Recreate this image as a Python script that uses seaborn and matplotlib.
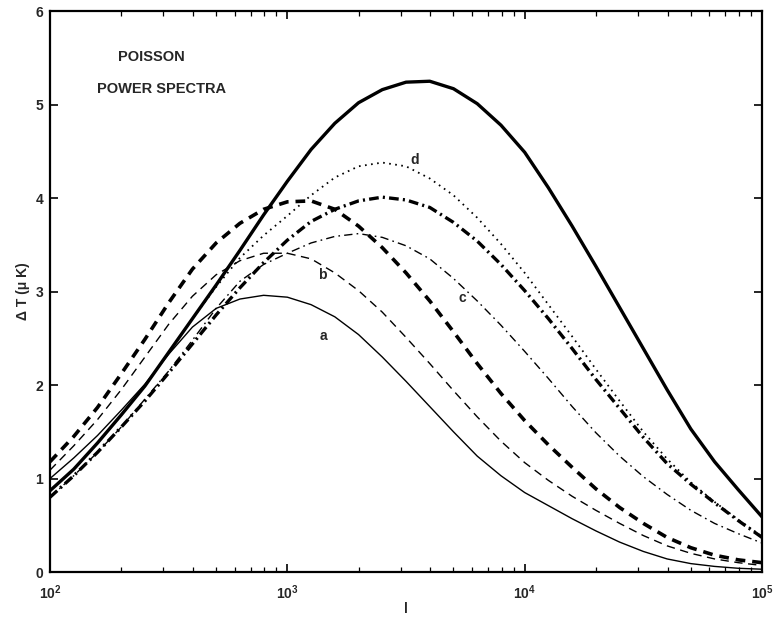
import numpy as np
import pandas as pd
import matplotlib
matplotlib.use("Agg")
import matplotlib.pyplot as plt
import seaborn as sns
from matplotlib.ticker import LogLocator, NullFormatter, FixedLocator

# ---------------- data ----------------
log_l = [2.0, 2.1, 2.2, 2.3, 2.4, 2.5, 2.6, 2.7, 2.8, 2.9,
         3.0, 3.1, 3.2, 3.3, 3.4, 3.5, 3.6, 3.7, 3.8, 3.9,
         4.0, 4.1, 4.2, 4.3, 4.4, 4.5, 4.6, 4.7, 4.8, 4.9, 5.0]

curve_a = [1.00, 1.22, 1.46, 1.73, 2.01, 2.33, 2.62, 2.82, 2.92, 2.96,
           2.94, 2.86, 2.73, 2.54, 2.30, 2.04, 1.77, 1.50, 1.24, 1.03,
           0.85, 0.71, 0.57, 0.44, 0.32, 0.22, 0.14, 0.09, 0.06, 0.04, 0.03]

curve_b = [1.09, 1.35, 1.63, 1.95, 2.30, 2.65, 2.95, 3.18, 3.33, 3.41,
           3.41, 3.35, 3.20, 3.01, 2.78, 2.51, 2.23, 1.94, 1.66, 1.40,
           1.17, 0.98, 0.81, 0.66, 0.52, 0.39, 0.28, 0.20, 0.14, 0.10, 0.07]

curve_thick_dash = [1.18, 1.45, 1.76, 2.12, 2.49, 2.88, 3.24, 3.52, 3.73, 3.88,
                    3.96, 3.97, 3.88, 3.70, 3.47, 3.20, 2.90, 2.57, 2.23, 1.91,
                    1.62, 1.36, 1.12, 0.89, 0.69, 0.52, 0.37, 0.26, 0.18, 0.13, 0.10]

curve_c = [0.80, 1.03, 1.28, 1.55, 1.85, 2.15, 2.48, 2.82, 3.11, 3.29,
           3.41, 3.52, 3.59, 3.62, 3.58, 3.49, 3.35, 3.14, 2.90, 2.64,
           2.36, 2.07, 1.77, 1.49, 1.24, 1.02, 0.83, 0.66, 0.52, 0.41, 0.31]

curve_thick_dashdot = [0.80, 1.03, 1.28, 1.55, 1.83, 2.13, 2.44, 2.75, 3.04, 3.31,
                       3.55, 3.75, 3.88, 3.97, 4.01, 3.98, 3.90, 3.74, 3.54, 3.29,
                       3.01, 2.71, 2.39, 2.06, 1.75, 1.44, 1.16, 0.94, 0.74, 0.55, 0.37]

curve_d = [0.87, 1.10, 1.38, 1.68, 1.99, 2.35, 2.71, 3.05, 3.36, 3.60,
           3.81, 4.03, 4.22, 4.34, 4.38, 4.34, 4.21, 4.03, 3.79, 3.51,
           3.20, 2.86, 2.52, 2.17, 1.83, 1.50, 1.21, 0.96, 0.75, 0.56, 0.38]

curve_thick_solid = [0.87, 1.10, 1.38, 1.68, 1.99, 2.35, 2.71, 3.07, 3.44, 3.82,
                     4.18, 4.52, 4.80, 5.02, 5.16, 5.24, 5.25, 5.17, 5.01, 4.78,
                     4.49, 4.11, 3.70, 3.27, 2.83, 2.39, 1.95, 1.53, 1.18, 0.88, 0.59]

curve_names = ["a", "b", "thick dashed", "c", "thick dash-dot", "d", "thick solid"]
curve_values = [curve_a, curve_b, curve_thick_dash, curve_c,
                curve_thick_dashdot, curve_d, curve_thick_solid]

label_names = ["a", "b", "c", "d"]
label_l = [1413, 1400, 5445, 3452]
label_dT = [2.53, 3.18, 2.93, 4.41]

y_ticks = [0, 1, 2, 3, 4, 5, 6]
x_ticks = [1e2, 1e3, 1e4, 1e5]
x_ticklabels = ["$10^{2}$", "$10^{3}$", "$10^{4}$", "$10^{5}$"]

# ---------------- table ----------------
rows = []
for name, vals in zip(curve_names, curve_values):
    for lg, v in zip(log_l, vals):
        rows.append({"l": 10 ** lg, "dT": v, "curve": name})
df = pd.DataFrame(rows)

# ---------------- style ----------------
sns.set_style("ticks")
plt.rcParams["font.family"] = ["Liberation Sans", "DejaVu Sans"]
plt.rcParams["mathtext.default"] = "regular"
plt.rcParams["lines.scale_dashes"] = False

fig = plt.figure(figsize=(7.73, 6.18), dpi=100)
ax = fig.add_axes([0.0647, 0.0744, 0.9211, 0.9076])

sizes = {"a": 1.0, "b": 1.0, "thick dashed": 2.6, "c": 1.0,
         "thick dash-dot": 2.4, "d": 1.3, "thick solid": 2.4}
dashes = {"a": "", "b": (6, 4), "thick dashed": (7, 5), "c": (6, 3, 1.2, 3),
          "thick dash-dot": (7, 3, 1.5, 3), "d": (1.2, 3.2), "thick solid": ""}

sns.lineplot(data=df, x="l", y="dT", hue="curve", style="curve", size="curve",
             palette={n: "black" for n in curve_names},
             sizes=sizes, dashes=dashes, estimator=None, sort=True,
             legend=False, ax=ax)

ax.set_xscale("log")
ax.set_xlim(1e2, 1e5)
ax.set_ylim(0, 6)

for name, lx, ly in zip(label_names, label_l, label_dT):
    ax.text(lx, ly, name, fontsize=10, fontweight="bold", ha="center", va="center")

ax.text(0.143, 0.918, "POISSON", transform=ax.transAxes, fontsize=10.5,
        fontweight="bold", ha="center", va="center")
ax.text(0.156, 0.861, "POWER SPECTRA", transform=ax.transAxes, fontsize=10.5,
        fontweight="bold", ha="center", va="center")

ax.xaxis.set_major_locator(FixedLocator(x_ticks))
ax.set_xticklabels(x_ticklabels)
ax.xaxis.set_minor_locator(LogLocator(base=10, subs=np.arange(2, 10)))
ax.xaxis.set_minor_formatter(NullFormatter())
ax.set_yticks(y_ticks)
ax.set_yticklabels([str(t) for t in y_ticks])

ax.tick_params(which="both", direction="in", top=True, right=True, color="black")
ax.tick_params(which="major", length=6, width=1.2, labelsize=10)
ax.tick_params(axis="x", which="major", pad=8)
ax.tick_params(axis="y", which="major", pad=5)
ax.tick_params(which="minor", length=3.5, width=0.9)
for lab in ax.get_xticklabels() + ax.get_yticklabels():
    lab.set_fontweight("bold")

for sp in ax.spines.values():
    sp.set_linewidth(1.6)
    sp.set_color("black")

ax.set_xlabel("l", fontsize=10, fontweight="bold", labelpad=0)
ax.set_ylabel("\u0394 T (\u03bc K)", fontsize=10, fontweight="bold", labelpad=4)

fig.savefig("out.png", dpi=100, facecolor="white")
